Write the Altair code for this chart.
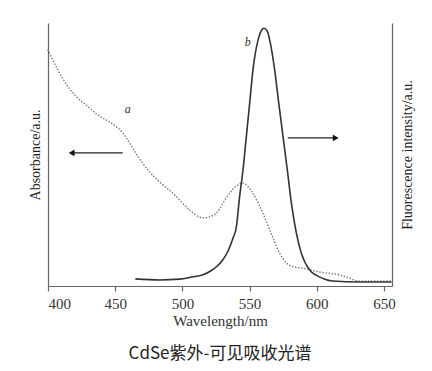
import altair as alt
import pandas as pd

# Absorbance (curve a, dotted)
abs_wl = [400, 407.4, 414.9, 422.3, 429.8, 437.2, 447.2, 455.8, 460.8, 467.0, 474.4, 484.4,
          492.8, 505.4, 512.9, 516.6, 521.8, 525.5, 533, 541.1, 544.9, 548.6, 552.3,
          559.8, 567.2, 572.4, 577.6, 583.6, 589.5, 602.2, 617.1, 624.5, 630.5, 655.7]
abs_val = [89.7, 82.1, 75.8, 71.4, 68.2, 65.0, 61.9, 58.1, 54.3, 49.2, 44.1, 39.0,
           35.4, 28.9, 26.2, 25.9, 26.6, 27.8, 33.8, 38.4, 39.2, 38.0, 35.4,
           27.8, 18.6, 12.5, 8.7, 7.2, 6.8, 5.3, 4.2, 3.0, 1.9, 1.9]

# Fluorescence (curve b, solid)
fl_wl = [465, 483.1, 498, 507, 515, 521, 526, 530, 534, 537.5, 540.2, 542.6, 545.1,
         547.6, 550.1, 552.5, 556.3, 558.3, 560.7, 563.1, 565.0, 568.7, 571.7, 574.9,
         578.1, 581.1, 584.8, 588.5, 594.7, 599.2, 605, 611.9, 632, 655.7]
fl_val = [2.7, 2.3, 2.6, 3.4, 4.2, 5.7, 7.6, 9.9, 13.3, 18.0, 22.5, 34.0, 44.1,
          56.8, 69.6, 82.1, 93.5, 96.6, 98.0, 97.0, 93.5, 82.1, 69.6, 56.8,
          44.1, 31.6, 20.2, 12.5, 6.1, 4.2, 2.8, 1.9, 1.5, 1.5]

x_ticks = [400, 450, 500, 550, 600, 650]

labels = ["a", "b"]
label_wl = [459.3, 548.6]
label_val = [67.3, 92.8]

arrow_start = [455.6, 578.4]
arrow_end = [417.6, 614.1]
arrow_val = [50.6, 56.3]
arrow_shape = ["triangle-left", "triangle-right"]

df_abs = pd.DataFrame({"wl": abs_wl, "v": abs_val})
df_fl = pd.DataFrame({"wl": fl_wl, "v": fl_val})
df_lab = pd.DataFrame({"wl": label_wl, "v": label_val, "t": labels})
df_arr = pd.DataFrame({"x1": arrow_start, "x2": arrow_end, "v": arrow_val, "shape": arrow_shape})

SERIF = "Liberation Serif"
AX = "#666666"

xscale = alt.Scale(domain=[400, 656], nice=False, zero=False)
yscale = alt.Scale(domain=[0, 100], nice=False, zero=True)

xaxis = alt.Axis(values=x_ticks, title="Wavelength/nm", grid=False, domainColor=AX,
                 tickColor=AX, tickSize=5, tickWidth=1.2, labelFont=SERIF, labelFontSize=15,
                 labelColor="#333", titleFont=SERIF, titleFontSize=15,
                 titleFontWeight="normal", titleColor="#333", labelPadding=5,
                 titlePadding=2, domainWidth=1.2, format="d")

left_axis = alt.Axis(orient="left", title="Absorbance/a.u.", labels=False, ticks=False,
                     grid=False, domainColor=AX, domainWidth=1.2, titleFont=SERIF,
                     titleFontSize=14, titleFontWeight="normal", titleColor="#222",
                     titlePadding=6)
right_axis = alt.Axis(orient="right", title="Fluorescence intensity/a.u.", labels=False,
                      ticks=False, grid=False, domainColor=AX, domainWidth=1.2,
                      titleFont=SERIF, titleFontSize=14, titleFontWeight="normal",
                      titleColor="#222", titlePadding=22, titleAngle=270)

absorb = alt.Chart(df_abs).mark_line(color="#7a7a7a", strokeWidth=1.6,
                                     strokeDash=[0.1, 3], strokeCap="round",
                                     interpolate="monotone").encode(
    x=alt.X("wl:Q", scale=xscale, axis=xaxis),
    y=alt.Y("v:Q", scale=yscale, axis=left_axis),
)

fluor = alt.Chart(df_fl).mark_line(color="#333333", strokeWidth=1.6, interpolate="monotone").encode(
    x=alt.X("wl:Q", scale=xscale, axis=xaxis),
    y=alt.Y("v:Q", scale=yscale, axis=right_axis),
)

text = alt.Chart(df_lab).mark_text(font=SERIF, fontStyle="italic", fontSize=12,
                                   color="#333").encode(
    x=alt.X("wl:Q", scale=xscale, axis=xaxis),
    y=alt.Y("v:Q", scale=yscale, axis=None),
    text="t:N",
)

rules = alt.Chart(df_arr).mark_rule(color="#222", strokeWidth=1.3).encode(
    x=alt.X("x1:Q", scale=xscale, axis=xaxis),
    x2="x2:Q",
    y=alt.Y("v:Q", scale=yscale, axis=None),
)

heads = alt.Chart(df_arr).mark_point(filled=True, color="#111", size=45, opacity=1).encode(
    x=alt.X("x2:Q", scale=xscale, axis=xaxis),
    y=alt.Y("v:Q", scale=yscale, axis=None),
    shape=alt.Shape("shape:N", scale=None),
)

chart = alt.layer(absorb, fluor, text, rules, heads).resolve_scale(
    y="independent"
).properties(
    width=344,
    height=263,
    autosize=alt.AutoSizeParams(type="none"),
    padding={"left": 40, "top": 15, "right": 32, "bottom": 77},
    title=alt.TitleParams("CdSe紫外-可见吸收光谱", orient="bottom", font="Noto Sans CJK SC",
                          fontSize=17, fontWeight="normal", color="#222", offset=18),
    background="white",
).configure_view(stroke=None)

chart.save("out.html", embed_options={"renderer": "svg", "actions": False})
